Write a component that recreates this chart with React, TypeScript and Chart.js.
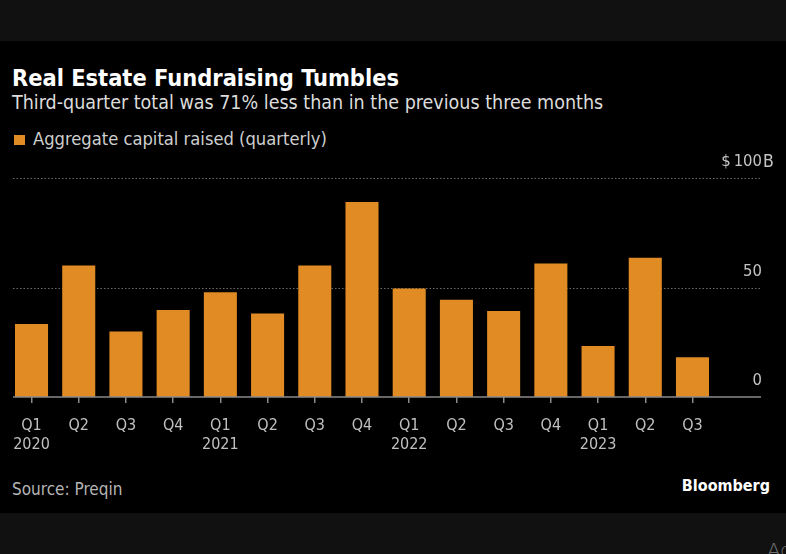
import React, { useEffect, useRef } from "react";
import { Chart, registerables } from "chart.js";

Chart.register(...registerables);

const quarters = ["Q1", "Q2", "Q3", "Q4", "Q1", "Q2", "Q3", "Q4", "Q1", "Q2", "Q3", "Q4", "Q1", "Q2", "Q3"];
const years = ["2020", "", "", "", "2021", "", "", "", "2022", "", "", "", "2023", "", ""];
const capitalRaised = [33.4, 60.1, 29.9, 39.8, 47.8, 38.1, 60.1, 89.0, 49.6, 44.4, 39.3, 61.0, 23.3, 63.6, 18.2];
const yTicks = [0, 50, 100];

const FONT = "'DejaVu Sans Condensed', 'DejaVu Sans', sans-serif";
const BAR = "#E08B24";

const overlay = {
  id: "bbgOverlay",
  beforeDatasetsDraw(chart: any) {
    const { ctx } = chart;
    const y = chart.scales.y;
    const x0 = 13, x1 = 761;
    ctx.save();
    ctx.strokeStyle = "#6a6a6a";
    ctx.lineWidth = 1;
    ctx.setLineDash([1.5, 2]);
    yTicks.forEach((v) => {
      if (v === 0) return;
      const py = Math.round(y.getPixelForValue(v)) + 0.5;
      ctx.beginPath();
      ctx.moveTo(x0, py);
      ctx.lineTo(x1, py);
      ctx.stroke();
    });
    ctx.restore();
  },
  afterDatasetsDraw(chart: any) {
    const { ctx } = chart;
    const y = chart.scales.y;
    const x0 = 13, x1 = 761;
    ctx.save();
    const py0 = y.getPixelForValue(0);
    ctx.strokeStyle = "#8a8a8a";
    ctx.lineWidth = 1.5;
    ctx.beginPath();
    ctx.moveTo(x0, py0);
    ctx.lineTo(x1, py0);
    ctx.stroke();
    ctx.fillStyle = "#c4c4c4";
    ctx.font = `16.5px ${FONT}`;
    ctx.textBaseline = "middle";
    yTicks.forEach((v, i) => {
      const py = y.getPixelForValue(v) - 16;
      const s = String(v);
      ctx.textAlign = "right";
      ctx.fillText(s, 762, py);
      if (i === yTicks.length - 1) {
        const w = ctx.measureText(s).width;
        ctx.fillText("$", 762 - w - 3, py);
        ctx.textAlign = "left";
        ctx.font = `17.5px ${FONT}`;
        ctx.fillText("B", 763, py);
      }
    });
    ctx.restore();
  },
};

function BarChart() {
  const ref = useRef<HTMLCanvasElement>(null);
  useEffect(() => {
    if (!ref.current) return;
    const labels = quarters.map((q, i) => [q, years[i]]);
    labels.push(["", ""]);
    const chart = new Chart(ref.current, {
      type: "bar",
      data: {
        labels,
        datasets: [
          {
            label: "Aggregate capital raised (quarterly)",
            data: capitalRaised,
            backgroundColor: BAR,
            borderWidth: 0,
            categoryPercentage: 1,
            barPercentage: 0.7,
          },
        ],
      },
      options: {
        animation: false,
        responsive: false,
        devicePixelRatio: 1,
        layout: { padding: { top: 28, left: 6.6, right: 22.7, bottom: 2.5 } },
        plugins: { legend: { display: false }, tooltip: { enabled: false } },
        scales: {
          x: {
            type: "category",
            offset: true,
            border: { display: false },
            grid: {
              offset: false,
              drawOnChartArea: false,
              drawTicks: true,
              tickLength: 6,
              lineWidth: 1.5,
              color: (c: any) => (c.index < quarters.length ? "#8a8a8a" : "rgba(0,0,0,0)"),
            },
            ticks: {
              color: "#c0c0c0",
              font: { family: FONT, size: 16, lineHeight: 1.2 },
              padding: 13,
              maxRotation: 0,
              autoSkip: false,
            },
          },
          y: {
            type: "linear",
            min: 0,
            max: 100,
            display: false,
          },
        },
      },
      plugins: [overlay],
    });
    return () => chart.destroy();
  }, []);
  return (
    <canvas
      ref={ref}
      width={786}
      height={320}
      style={{ position: "absolute", left: 0, top: 150, width: 786, height: 320 }}
    />
  );
}

function Text(props: { x: number; base: number; size: number; color: string; bold?: boolean; children: any; right?: boolean }) {
  const { x, base, size, color, bold, children, right } = props;
  const style: any = {
    position: "absolute",
    top: base - 0.846 * size,
    fontFamily: FONT,
    fontSize: size,
    lineHeight: `${size}px`,
    color,
    fontWeight: bold ? "bold" : "normal",
    whiteSpace: "nowrap",
  };
  if (right) style.right = 786 - x;
  else style.left = x;
  return <div style={style}>{children}</div>;
}

export default function App() {
  useEffect(() => {
    document.body.style.margin = "0";
    document.body.style.background = "#111";
  }, []);
  return (
    <div style={{ position: "absolute", left: 0, top: 0, width: 786, height: 554, background: "#111111", overflow: "hidden" }}>
      <div style={{ position: "absolute", left: 0, top: 41, width: 786, height: 472, background: "#000" }} />
      <Text x={12} base={87} size={23.4} color="#ffffff" bold>
        Real Estate Fundraising Tumbles
      </Text>
      <Text x={12} base={109.5} size={19.5} color="#dcdcdc">
        Third-quarter total was 71% less than in the previous three months
      </Text>
      <div style={{ position: "absolute", left: 14, top: 135, width: 11, height: 10, background: BAR }} />
      <Text x={33} base={145} size={18.2} color="#cfcfcf">
        Aggregate capital raised (quarterly)
      </Text>
      <BarChart />
      <Text x={12} base={495} size={17} color="#b5b5b5">
        Source: Preqin
      </Text>
      <Text x={770} base={492} size={16} color="#ffffff" bold right>
        Bloomberg
      </Text>
      <div style={{ position: "absolute", left: 767, top: 538, fontFamily: "'DejaVu Sans', sans-serif", fontSize: 20, color: "#6f6f6f", whiteSpace: "nowrap", fontWeight: 200 }}>
        Activate Windows
      </div>
    </div>
  );
}
